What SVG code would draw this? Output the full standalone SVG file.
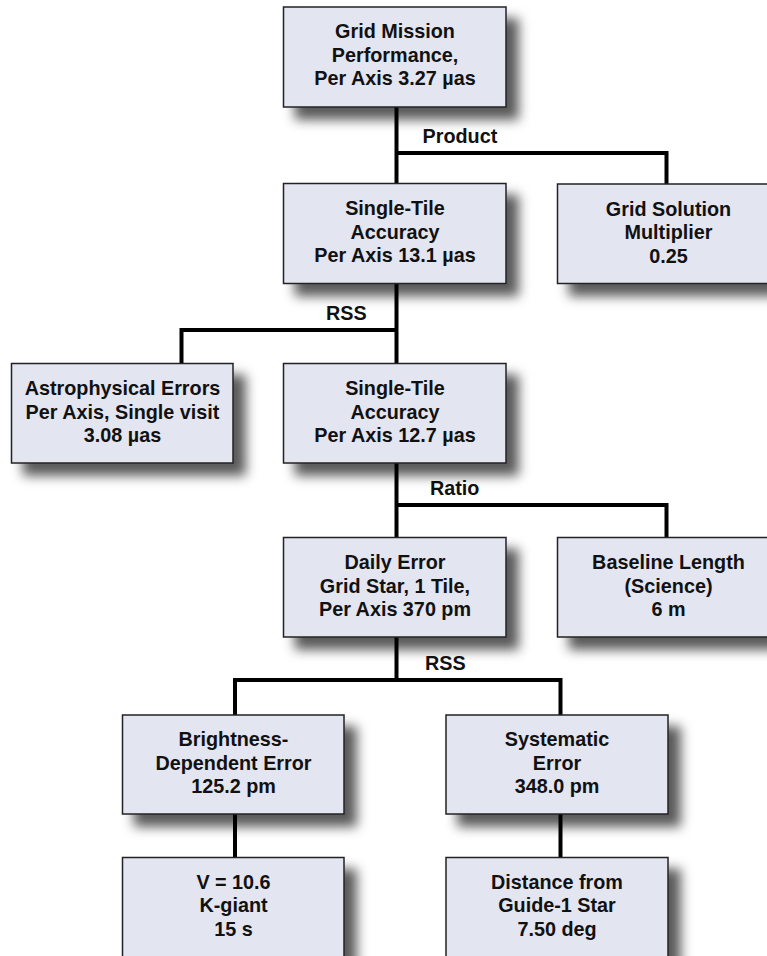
<svg xmlns="http://www.w3.org/2000/svg" width="767" height="956" viewBox="0 0 767 956">
<defs>
<filter id="sh" x="-20%" y="-20%" width="160%" height="180%">
<feDropShadow dx="12" dy="12" stdDeviation="6" flood-color="#000" flood-opacity="0.65"/>
</filter>
<style>
.box{fill:#e3e5f1;stroke:#222;stroke-width:1.5;filter:url(#sh)}
.t{font-family:"Liberation Sans",Arial,Helvetica,sans-serif;font-weight:bold;font-size:19.8px;fill:#111;text-anchor:middle}
.lbl{font-family:"Liberation Sans",Arial,Helvetica,sans-serif;font-weight:bold;font-size:19.8px;fill:#111}
.c{fill:none;stroke:#000;stroke-width:4;stroke-linejoin:miter;stroke-linecap:butt}
</style>
</defs>
<rect width="767" height="956" fill="#fff"/>
<g id="connectors">
<path class="c" d="M396.5,107 V183"/>
<path class="c" d="M396.5,153 H666.5 V184"/>
<path class="c" d="M396.5,283 V363"/>
<path class="c" d="M396.5,330 H181.5 V363"/>
<path class="c" d="M396.5,463 V537"/>
<path class="c" d="M396.5,505 H666.5 V537"/>
<path class="c" d="M396.5,637 V680"/>
<path class="c" d="M235,680 H560.5"/>
<path class="c" d="M235,678 V715"/>
<path class="c" d="M560.5,678 V715"/>
<path class="c" d="M235,814 V857"/>
<path class="c" d="M560.5,814 V857"/>
<text class="lbl" x="422.5" y="143">Product</text>
<text class="lbl" x="326" y="320">RSS</text>
<text class="lbl" x="430" y="495">Ratio</text>
<text class="lbl" x="425" y="670">RSS</text>
</g>
<g id="n1">
<rect class="box" x="283.5" y="7" width="222.5" height="100"/>
<text class="t" x="395" y="38">Grid Mission</text>
<text class="t" x="395" y="61.5">Performance,</text>
<text class="t" x="395" y="85">Per Axis 3.27 µas</text>
</g>
<g id="n2">
<rect class="box" x="283.5" y="183.5" width="222.5" height="100"/>
<text class="t" x="395" y="215">Single-Tile</text>
<text class="t" x="395" y="238.5">Accuracy</text>
<text class="t" x="395" y="262">Per Axis 13.1 µas</text>
</g>
<g id="n3">
<rect class="box" x="557.5" y="184" width="222.5" height="99.5"/>
<text class="t" x="668.5" y="215.5">Grid Solution</text>
<text class="t" x="668.5" y="239">Multiplier</text>
<text class="t" x="668.5" y="262.5">0.25</text>
</g>
<g id="n4">
<rect class="box" x="11.5" y="363.5" width="221.5" height="99.5"/>
<text class="t" x="122.5" y="395">Astrophysical Errors</text>
<text class="t" x="122.5" y="418.5">Per Axis, Single visit</text>
<text class="t" x="122.5" y="442">3.08 µas</text>
</g>
<g id="n5">
<rect class="box" x="283.5" y="363.5" width="222.5" height="99.5"/>
<text class="t" x="395" y="395">Single-Tile</text>
<text class="t" x="395" y="418.5">Accuracy</text>
<text class="t" x="395" y="442">Per Axis 12.7 µas</text>
</g>
<g id="n6">
<rect class="box" x="283.5" y="537.5" width="222.5" height="99.5"/>
<text class="t" x="395" y="569">Daily Error</text>
<text class="t" x="395" y="592.5">Grid Star, 1 Tile,</text>
<text class="t" x="395" y="616">Per Axis 370 pm</text>
</g>
<g id="n7">
<rect class="box" x="557.5" y="537.5" width="222.5" height="99.5"/>
<text class="t" x="668.5" y="569">Baseline Length</text>
<text class="t" x="668.5" y="592.5">(Science)</text>
<text class="t" x="668.5" y="616">6 m</text>
</g>
<g id="n8">
<rect class="box" x="122.5" y="715" width="221.5" height="99"/>
<text class="t" x="233.5" y="746">Brightness-</text>
<text class="t" x="233.5" y="769.5">Dependent Error</text>
<text class="t" x="233.5" y="793">125.2 pm</text>
</g>
<g id="n9">
<rect class="box" x="446" y="715" width="222" height="99"/>
<text class="t" x="557" y="746">Systematic</text>
<text class="t" x="557" y="769.5">Error</text>
<text class="t" x="557" y="793">348.0 pm</text>
</g>
<g id="n10">
<rect class="box" x="122.5" y="857.5" width="221.5" height="100"/>
<text class="t" x="233.5" y="888.5">V = 10.6</text>
<text class="t" x="233.5" y="912">K-giant</text>
<text class="t" x="233.5" y="935.5">15 s</text>
</g>
<g id="n11">
<rect class="box" x="446" y="857.5" width="222" height="100"/>
<text class="t" x="557" y="888.5">Distance from</text>
<text class="t" x="557" y="912">Guide-1 Star</text>
<text class="t" x="557" y="935.5">7.50 deg</text>
</g>
</svg>
